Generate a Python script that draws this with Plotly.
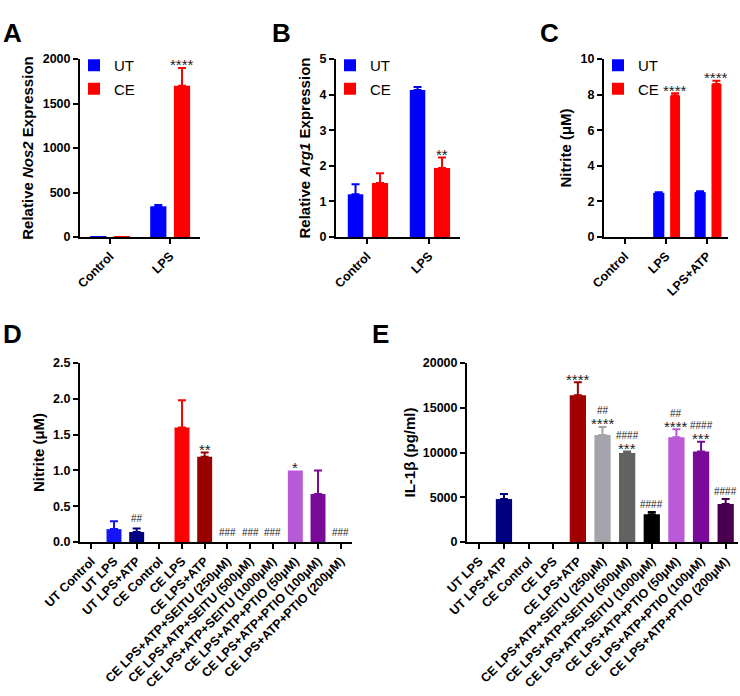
import plotly.graph_objects as go

FONT = "Arial, Liberation Sans, Helvetica, sans-serif"
W, H = 740, 696

# ---------------- data ----------------
# Panel A  (Relative Nos2 expression)
a_cats = ["Control", "LPS"]
a_ut = [1, 345]
a_ut_err = [0, 15]
a_ce = [6, 1700]
a_ce_err = [0, 200]
a_sig = ["", "****"]

# Panel B  (Relative Arg1 expression)
b_cats = ["Control", "LPS"]
b_ut = [1.2, 4.13]
b_ut_err = [0.28, 0.08]
b_ce = [1.52, 1.94]
b_ce_err = [0.27, 0.29]
b_sig = ["", "**"]

# Panel C  (Nitrite, uM)
c_cats = ["Control", "LPS", "LPS+ATP"]
c_ut = [0, 2.48, 2.52]
c_ut_err = [0, 0.04, 0.05]
c_ce = [0, 7.95, 8.6]
c_ce_err = [0, 0.13, 0.18]
c_sig = ["", "****", "****"]

# Panel D  (Nitrite, uM)
d_cats = ["UT Control", "UT LPS", "UT LPS+ATP", "CE Control", "CE LPS", "CE LPS+ATP",
          "CE LPS+ATP+SEITU (250μM)", "CE LPS+ATP+SEITU (500μM)",
          "CE LPS+ATP+SEITU (1000μM)", "CE LPS+ATP+PTIO (50μM)",
          "CE LPS+ATP+PTIO (100μM)", "CE LPS+ATP+PTIO (200μM)"]
d_vals = [0, 0.18, 0.14, 0, 1.6, 1.19, 0, 0, 0, 1.0, 0.67, 0]
d_err = [0, 0.11, 0.05, 0, 0.38, 0.06, 0, 0, 0, 0, 0.33, 0]
d_stars = ["", "", "", "", "", "**", "", "", "", "*", "", ""]
d_hash = ["", "", "##", "", "", "", "###", "###", "###", "", "", "###"]
d_colors = ["#0000FF", "#1414FF", "#000080", "#FF0000", "#FF0000", "#990000",
            "#A2A2AA", "#606060", "#000000", "#B65AD8", "#780A98", "#4A004F"]

# Panel E  (IL-1beta, pg/ml)
e_cats = ["UT LPS", "UT LPS+ATP", "CE Control", "CE LPS", "CE LPS+ATP",
          "CE LPS+ATP+SEITU (250μM)", "CE LPS+ATP+SEITU (500μM)",
          "CE LPS+ATP+SEITU (1000μM)", "CE LPS+ATP+PTIO (50μM)",
          "CE LPS+ATP+PTIO (100μM)", "CE LPS+ATP+PTIO (200μM)"]
e_vals = [0, 4800, 0, 0, 16400, 11950, 9950, 3100, 11700, 10100, 4250]
e_err = [0, 560, 0, 0, 1450, 900, 150, 250, 900, 1100, 550]
e_stars = ["", "", "", "", "****", "****", "***", "", "****", "***", ""]
e_hash = ["", "", "", "", "", "##", "####", "####", "##", "####", "####"]
e_colors = ["#0000FF", "#000080", "#FF0000", "#FF0000", "#A00000",
            "#A3A3AB", "#626262", "#000000", "#BA5AD8", "#7A0A9A", "#4A004F"]

UT_COLOR = "#0000FF"
CE_COLOR = "#FF0000"
SIG_COLOR = "#222222"

# ---------------- layout geometry (pixels) ----------------
def xd(x0, x1):
    return [x0 / W, x1 / W]

def yd(top, bottom):
    return [1 - bottom / H, 1 - top / H]

fig = go.Figure()


def err(e, color):
    return dict(type="data", array=[e], arrayminus=[0], symmetric=False,
                color=color, thickness=2, width=4, visible=bool(e))


annotations = []


def sig(xref, yref, x, y, text, size, shift):
    annotations.append(dict(x=x, y=y, xref=xref, yref=yref, text=text, showarrow=False,
                            yanchor="middle", xanchor="center", yshift=shift,
                            font=dict(family=FONT, size=size, color=SIG_COLOR)))


STAR_SIZE = 15
HASH_SIZE = 10

# grouped panels A, B, C  (one trace per bar so zero-height bars get no error cap)
groups = [
    ("x", "y", "legend", a_cats, a_ut, a_ut_err, a_ce, a_ce_err, a_sig, (-0.33, 0.27), (0.065, 0.27)),
    ("x2", "y2", "legend2", b_cats, b_ut, b_ut_err, b_ce, b_ce_err, b_sig, (-0.31, 0.25), (0.08, 0.26)),
    ("x3", "y3", "legend3", c_cats, c_ut, c_ut_err, c_ce, c_ce_err, c_sig, (-0.31, 0.27), (0.1, 0.24)),
]
for xa, ya, lg, cats, ut, ute, ce, cee, sg, (uo, uw), (co, cw) in groups:
    for name, vals, errs, col, off, wid in [("UT", ut, ute, UT_COLOR, uo, uw),
                                             ("CE", ce, cee, CE_COLOR, co, cw)]:
        for i, (c, v, e) in enumerate(zip(cats, vals, errs)):
            fig.add_trace(go.Bar(x=[c], y=[v], name=name, legendgroup=name,
                                 showlegend=(i == 0),
                                 marker=dict(color=col, line=dict(width=0)),
                                 error_y=err(e, col), xaxis=xa, yaxis=ya, legend=lg,
                                 offset=off, width=wid))
    for i, (v, e, t) in enumerate(zip(ce, cee, sg)):
        if t:
            sig(xa, ya, i + co + cw / 2, v + e, t, STAR_SIZE, 3)

# single-bar panels D, E (one trace per bar so each error bar takes its bar colour)
for xa, ya, cats, vals, errs, cols in [("x4", "y4", d_cats, d_vals, d_err, d_colors),
                                        ("x5", "y5", e_cats, e_vals, e_err, e_colors)]:
    for c, v, e, col in zip(cats, vals, errs, cols):
        fig.add_trace(go.Bar(x=[c], y=[v], marker=dict(color=col, line=dict(width=0)),
                             error_y=err(e, col), xaxis=xa, yaxis=ya, showlegend=False,
                             width=0.66, name=c))

for c, v, e, st, hs in zip(d_cats, d_vals, d_err, d_stars, d_hash):
    if st:
        sig("x4", "y4", c, v + e, st, STAR_SIZE, 3)
    if hs:
        sig("x4", "y4", c, v + e, hs, HASH_SIZE, 10)

for c, v, e, st, hs in zip(e_cats, e_vals, e_err, e_stars, e_hash):
    if st:
        sig("x5", "y5", c, v + e, st, STAR_SIZE, 3)
    if hs:
        sig("x5", "y5", c, v + e, hs, HASH_SIZE, 16 if st else 8)

# panel letters
for letter, px, py in [("A", 12, 33), ("B", 281, 33), ("C", 549, 33), ("D", 12, 334), ("E", 381, 334)]:
    annotations.append(dict(x=px / W, y=1 - py / H, xref="paper", yref="paper", text=letter,
                            showarrow=False, xanchor="center", yanchor="middle",
                            font=dict(family=FONT, size=26, color="black", weight="bold")))

tickfont_y = dict(family=FONT, size=12.5, color="black", weight="bold")
tickfont_x = dict(family=FONT, size=12.5, color="black", weight="bold")
titlefont = dict(family=FONT, size=15, color="black", weight="bold")


def xaxis(dom, cats):
    return dict(domain=dom, type="category", categoryorder="array", categoryarray=cats,
                range=[-0.5, len(cats) - 0.5], showline=True, linecolor="black", linewidth=2,
                ticks="outside", ticklen=5, tickwidth=2, tickcolor="black", tickangle=-45,
                tickfont=tickfont_x, showgrid=False, zeroline=False, automargin=False,
                fixedrange=True)


def yaxis(dom, rng, dtick, title, standoff, anchor):
    return dict(domain=dom, range=rng, dtick=dtick, showline=True, linecolor="black", linewidth=2,
                ticks="outside", ticklen=5, tickwidth=2, tickcolor="black", tickfont=tickfont_y,
                showgrid=False, zeroline=False, automargin=False, anchor=anchor,
                title=dict(text=title, font=titlefont, standoff=standoff), fixedrange=True)


top_row = yd(59, 237)
bot_row = yd(363, 542)

legend_common = dict(bgcolor="rgba(0,0,0,0)", font=dict(family=FONT, size=15, color="black"),
                     xanchor="left", yanchor="top", itemwidth=30, tracegroupgap=1,
                     traceorder="grouped")

fig.update_layout(
    width=W, height=H, autosize=False,
    margin=dict(l=0, r=0, t=0, b=0),
    paper_bgcolor="white", plot_bgcolor="white",
    barmode="overlay",
    font=dict(family=FONT, color="black"),
    xaxis=xaxis(xd(80, 200), a_cats) | dict(anchor="y"),
    yaxis=yaxis(top_row, [0, 2000], 500, "Relative <i>Nos2</i> Expression", 5, "x"),
    xaxis2=xaxis(xd(336, 460), b_cats) | dict(anchor="y2"),
    yaxis2=yaxis(top_row, [0, 5], 1, "Relative <i>Arg1</i> Expression", 5, "x2"),
    xaxis3=xaxis(xd(604, 728), c_cats) | dict(anchor="y3"),
    yaxis3=yaxis(top_row, [0, 10], 2, "Nitrite (μM)", 5, "x3"),
    xaxis4=xaxis(xd(80, 352), d_cats) | dict(anchor="y4"),
    yaxis4=yaxis(bot_row, [0, 2.5], 0.5, "Nitrite (μM)", 5, "x4") | dict(tickformat=".1f"),
    xaxis5=xaxis(xd(467, 738), e_cats) | dict(anchor="y5"),
    yaxis5=yaxis(bot_row, [0, 20000], 5000, "IL-1β (pg/ml)", 3, "x5") | dict(tickformat="d"),
    legend=legend_common | dict(x=74 / W, y=1 - 49 / H),
    legend2=legend_common | dict(x=330 / W, y=1 - 49 / H),
    legend3=legend_common | dict(x=598 / W, y=1 - 49 / H),
    annotations=annotations,
)

fig.write_html("out.html", config={"displayModeBar": False},
               post_script="document.body.style.margin='0';document.body.style.overflow='hidden';")
